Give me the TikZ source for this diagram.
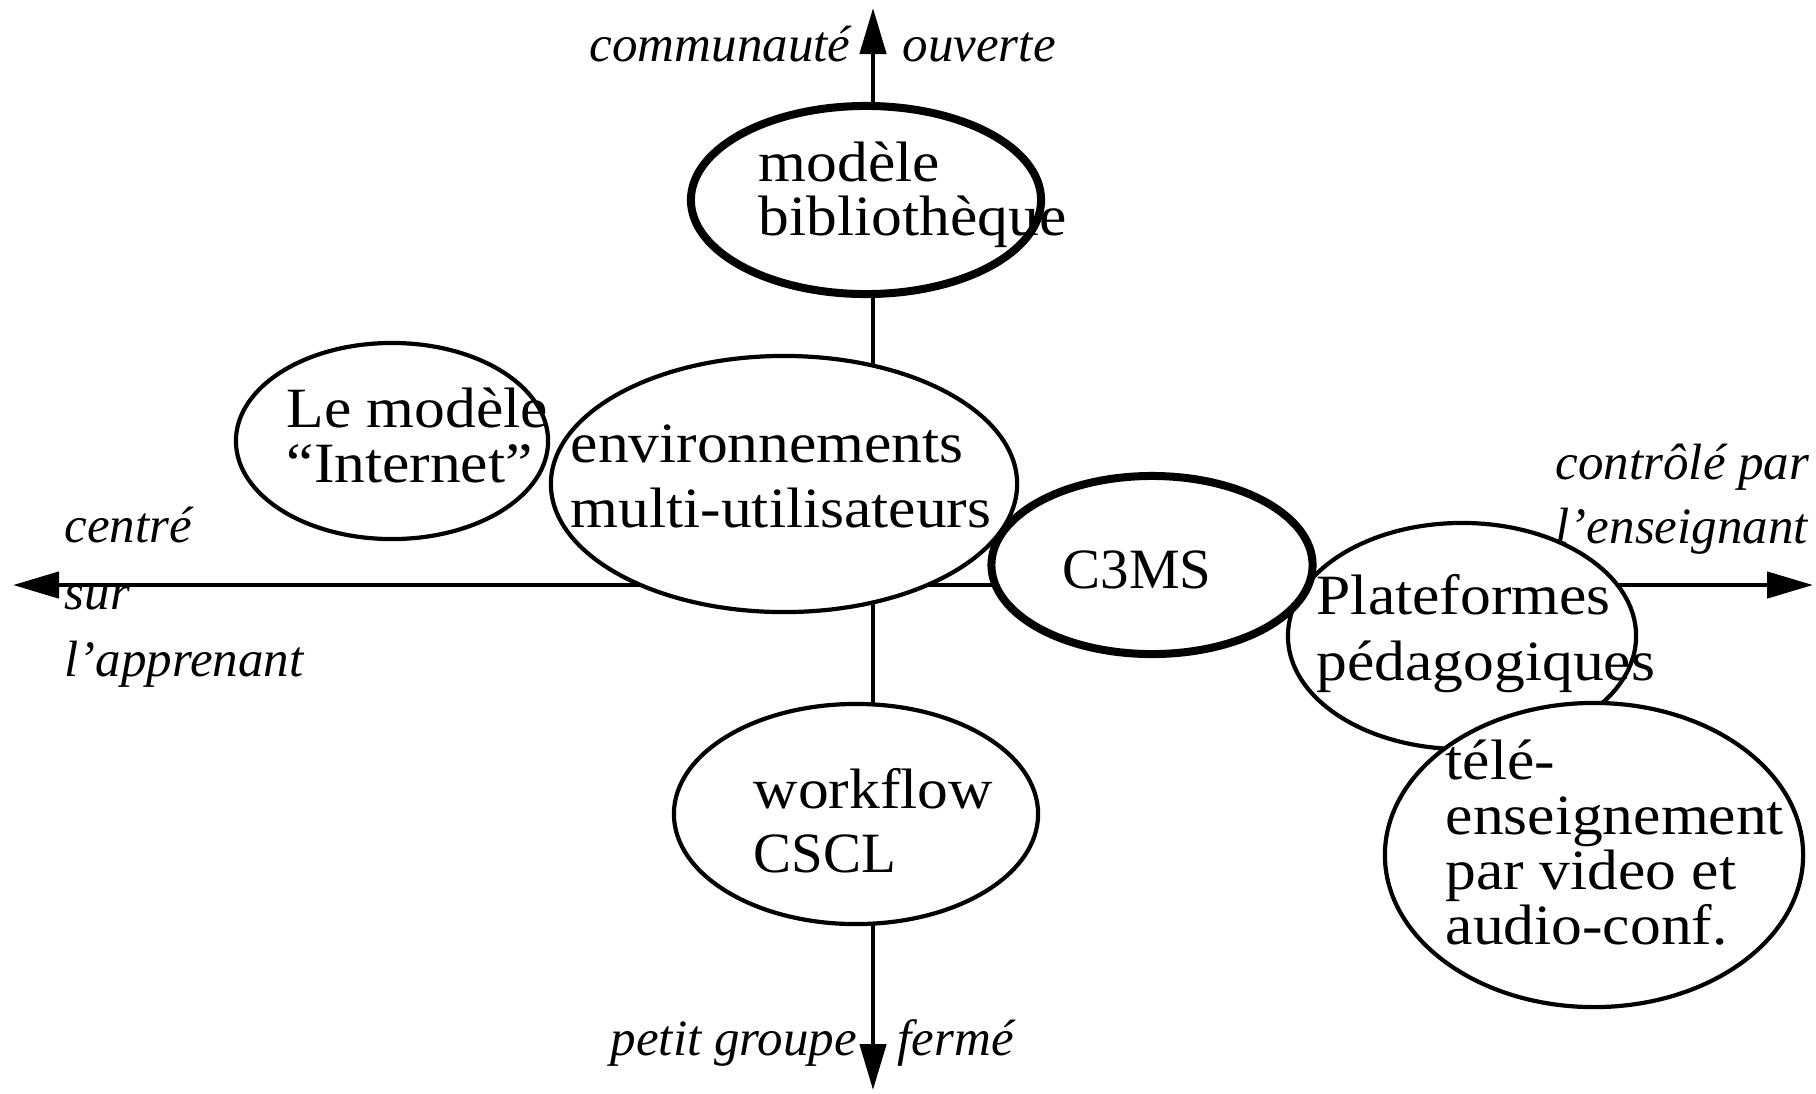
\documentclass[tikz,border=0pt]{standalone}
\usepackage{fontspec}
\setmainfont{Liberation Serif}
\newfontfamily\boxfont[FakeStretch=1.08]{Liberation Serif}
\newfontfamily\capsfont{Liberation Serif}
\usetikzlibrary{shapes.geometric,arrows.meta}

\begin{document}
\begin{tikzpicture}[x=0.01cm,y=-0.01cm,
  axis/.style={line width=0.045cm,
    {Triangle[length=0.46cm,width=0.26cm]}-{Triangle[length=0.46cm,width=0.26cm]}},
  blob/.style={ellipse,draw,fill=white,line width=0.042cm,inner sep=0pt},
  heavy/.style={line width=0.08cm},
  txt/.style={anchor=base west,inner sep=0pt,
    font=\boxfont\fontsize{16.2pt}{#1}\selectfont},
  pole/.style={inner sep=0pt,
    font=\itshape\fontsize{14.5pt}{#1}\selectfont}
]
\useasboundingbox (0,0) rectangle (1816,1093);

% the two axes
\coordinate (top) at (873,8);
\coordinate (bottom) at (873,1090);
\coordinate (left) at (13,585);
\coordinate (right) at (1813,585);
\draw[axis] (bottom) -- (top);
\draw[axis] (left) -- (right);

% pole labels
\node[pole=17pt,anchor=base east] (commu) at (851,61) {communauté};
\node[pole=17pt,anchor=base west] (ouv) at (902,61) {ouverte};
\node[pole=17pt,anchor=base west] (petit) at (610,1055) {petit groupe};
\node[pole=17pt,anchor=base west] (ferme) at (897,1055) {fermé};
\node[pole=19.06pt,anchor=base west] (centre) at (64,542)
  {\vtop{\hbox{centré}\hbox{sur}\hbox{l’apprenant}}};
\node[pole=18.2pt,anchor=base west] (ctrl) at (1555,479)
  {\vtop{\hbox{contrôlé par}\hbox{l’enseignant}}};

% ellipses
\node[blob,heavy,minimum width=3.5cm,minimum height=1.88cm] (bib) at (866,200) {};
\node[blob,minimum width=3.64cm,minimum height=2.2cm] (work) at (856,814) {};
\node[blob,minimum width=3.12cm,minimum height=1.96cm] (inet) at (392,441) {};
\node[blob,minimum width=4.66cm,minimum height=2.56cm] (env) at (784,484) {};
\node[blob,minimum width=3.48cm,minimum height=2.26cm] (plat) at (1462,636) {};
\node[blob,heavy,minimum width=3.21cm,minimum height=1.78cm] (c3ms) at (1152,565) {};
\node[blob,minimum width=4.18cm,minimum height=3.04cm] (tele) at (1594,855) {};

% ellipse texts
\node[txt=15.36pt] (bibt) at (758,181) {\vtop{\hbox{modèle}\hbox{bibliothèque}}};
\node[txt=15.65pt] (inett) at (286,427) {\vtop{\hbox{Le modèle}\hbox{“Internet”}}};
\node[txt=18.49pt] (envt) at (570,462) {\vtop{\hbox{environnements}\hbox{multi-utilisateurs}}};
\node[txt=18pt] (c3mst) at (1062,588) {\capsfont C3MS};
\node[txt=18.78pt] (platt) at (1316,614) {\vtop{\hbox{Plateformes}\hbox{pédagogiques}}};
\node[txt=15.65pt] (telet) at (1445,779)
  {\vtop{\hbox{télé-}\hbox{enseignement}\hbox{par video et}\hbox{audio-conf.}}};
\node[txt=18.21pt] (workt) at (753,808) {\vtop{\hbox{workflow}\hbox{\capsfont CSCL}}};
\end{tikzpicture}
\end{document}
